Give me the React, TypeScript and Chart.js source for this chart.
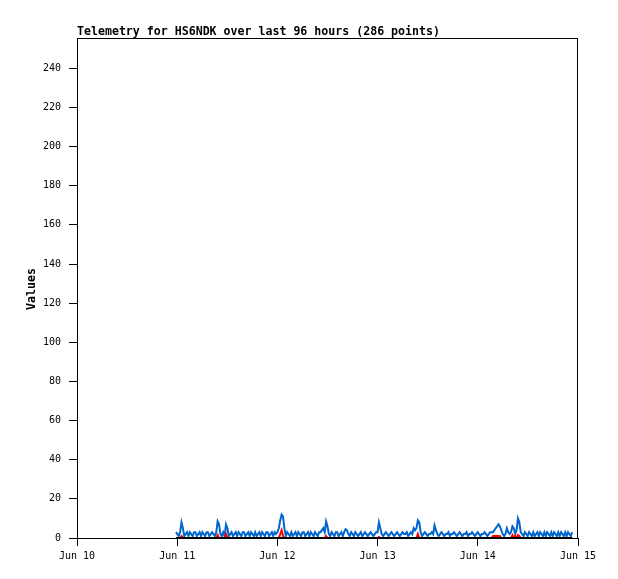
import React, { useEffect, useRef } from "react";
import { Chart, registerables } from "chart.js";

Chart.register(...registerables);

// Hours since Jun 10 00:00; samples every 20 minutes
const START_HOUR = 23.7;
const STEP_HOURS = 0.333;
const DAY_LABELS = ["Jun 10", "Jun 11", "Jun 12", "Jun 13", "Jun 14", "Jun 15"];
const Y_TICKS = [0, 20, 40, 60, 80, 100, 120, 140, 160, 180, 200, 220, 240];

const blueValues = [
  3, 2, 1, 3, 8, 5, 1, 2, 3, 1, 3, 2, 1, 3, 3, 1, 2, 3, 1, 3,
  2, 1, 3, 3, 1, 2, 3, 2, 1, 3, 8.5, 7, 2, 1, 3, 1, 7, 5, 1, 2,
  3, 1, 2, 3, 1, 3, 2, 1, 3, 3, 1, 2, 3, 1, 3, 2, 1, 3, 1, 2,
  3, 1, 3, 2, 1, 3, 3, 1, 2, 3, 1, 3, 2, 3, 5, 9, 12, 11, 5, 1,
  3, 2, 1, 3, 1, 2, 3, 1, 3, 2, 1, 3, 3, 1, 2, 3, 1, 3, 2, 1,
  3, 2, 1, 3, 3, 4, 5, 3, 8.5, 6, 2, 1, 3, 2, 1, 3, 3, 1, 2, 3,
  1, 3, 4.5, 4, 2, 1, 3, 2, 1, 3, 2, 1, 2, 3, 1, 2, 3, 2, 1, 2,
  3, 2, 1, 2, 3, 3, 8, 5, 2, 1, 2, 3, 2, 1, 2, 3, 2, 1, 2, 3,
  2, 1, 2, 3, 2, 2, 3, 1, 2, 3, 2, 5, 4, 5, 9, 8, 3, 1, 2, 3,
  2, 1, 2, 2, 3, 2, 6.5, 4, 2, 1, 2, 3, 2, 1, 2, 2, 3, 1, 2, 2,
  3, 2, 1, 2, 3, 2, 1, 2, 2, 3, 1, 2, 2, 3, 2, 1, 2, 3, 2, 1,
  2, 2, 3, 2, 1, 2, 3, 3, 3, 4, 5, 6, 7, 6, 4, 2, 1, 2, 5, 3,
  2, 3, 6, 5, 2, 4, 10, 8, 3, 2, 1, 3, 2, 1, 3, 2, 1, 3, 1, 2,
  3, 1, 3, 2, 1, 3, 1, 3, 2, 1, 3, 1, 3, 2, 1, 3, 1, 3, 2, 1,
  3, 1, 3, 2, 1, 3,
];

const redValues = [
  0, 0, 0, 0, 1, 0, 0, 0, 0, 0, 0, 0, 0, 0, 0, 0, 0, 0, 0, 0,
  0, 0, 0, 0, 0, 0, 0, 0, 0, 0, 1.5, 0, 0, 0, 0, 0, 2, 0, 0, 0,
  0, 0, 0, 0, 0, 0, 0, 0, 0, 0, 0, 0, 0, 0, 0, 0, 0, 0, 0, 0,
  0, 0, 0, 0, 0, 0, 0, 0, 0, 0, 0, 0, 0, 0, 0, 2, 4, 1, 0, 0,
  0, 0, 0, 0, 0, 0, 0, 0, 0, 0, 0, 0, 0, 0, 0, 0, 0, 0, 0, 0,
  0, 0, 0, 0, 0, 0, 0, 0, 1, 0, 0, 0, 0, 0, 0, 0, 0, 0, 0, 0,
  0, 0, 0, 0, 0, 0, 0, 0, 0, 0, 0, 0, 0, 0, 0, 0, 0, 0, 0, 0,
  0, 0, 0, 0, 0, 0, 0.5, 0, 0, 0, 0, 0, 0, 0, 0, 0, 0, 0, 0, 0,
  0, 0, 0, 0, 0, 0, 0, 0, 0, 0, 0, 0, 0, 0, 2, 0, 0, 0, 0, 0,
  0, 0, 0, 0, 0, 0, 0, 0, 0, 0, 0, 0, 0, 0, 0, 0, 0, 0, 0, 0,
  0, 0, 0, 0, 0, 0, 0, 0, 0, 0, 0, 0, 0, 0, 0, 0, 0, 0, 0, 0,
  0, 0, 0, 0, 0, 0, 0, 0, 1, 1, 1, 1, 1, 1, 0, 0, 0, 0, 0, 0,
  0, 0, 1.5, 0, 1, 0, 1.5, 1, 0, 0, 0, 0, 0, 0, 0, 0, 0, 0, 0, 0,
  0, 0, 0, 0, 0, 0, 0, 0, 0, 0, 0, 0, 0, 0, 0, 0, 0, 0, 0, 0,
  0, 0, 0, 0, 0, 0,
];

const blackValues = blueValues.map(() => 0);

const TITLE = "Telemetry for HS6NDK over last 96 hours (286 points)";
const Y_LABEL = "Values";

export default function App() {
  const ref = useRef<HTMLCanvasElement>(null);
  useEffect(() => {
    if (!ref.current) return;
    const times = blueValues.map((_, i) => START_HOUR + i * STEP_HOURS);
    const toPts = (arr: number[]) => arr.map((v, i) => ({ x: times[i], y: v }));
    const decor = {
      id: "decor",
      afterDraw(chart: any) {
        const { ctx, chartArea } = chart;
        ctx.save();
        ctx.strokeStyle = "#000";
        ctx.lineWidth = 1;
        ctx.strokeRect(
          Math.round(chartArea.left) + 0.5,
          Math.round(chartArea.top) + 0.5,
          Math.round(chartArea.right - chartArea.left) - 1,
          Math.round(chartArea.bottom - chartArea.top)
        );
        ctx.fillStyle = "#000";
        ctx.font = "bold 11.6px 'DejaVu Sans Mono'";
        ctx.textBaseline = "alphabetic";
        ctx.textAlign = "left";
        ctx.fillText(TITLE, chartArea.left, 35);
        ctx.translate(32, (chartArea.top + chartArea.bottom) / 2 + 1);
        ctx.rotate(-Math.PI / 2);
        ctx.textAlign = "center";
        ctx.textBaseline = "middle";
        ctx.fillText(Y_LABEL, 0, 0);
        ctx.restore();
      },
    };
    const chart = new Chart(ref.current, {
      type: "line",
      data: {
        datasets: [
          { data: toPts(blackValues), borderColor: "#000", borderWidth: 2, pointRadius: 0, order: 1 },
          { data: toPts(redValues), borderColor: "#ff0000", borderWidth: 2, pointRadius: 0, order: 2 },
          { data: toPts(blueValues), borderColor: "#0066cc", borderWidth: 2, pointRadius: 0, order: 3 },
        ],
      },
      options: {
        animation: false,
        responsive: false,
        layout: { padding: { left: 0, right: 40, top: 38, bottom: 0 } },
        plugins: { legend: { display: false }, tooltip: { enabled: false } },
        elements: { line: { tension: 0 } },
        scales: {
          x: {
            type: "linear",
            min: 0,
            max: 120,
            afterBuildTicks: (s: any) => {
              s.ticks = DAY_LABELS.map((_, i) => ({ value: i * 24 }));
            },
            afterFit: (s: any) => {
              s.height = 41;
            },
            ticks: {
              autoSkip: false,
              maxRotation: 0,
              padding: 4,
              color: "#000",
              font: { family: "'DejaVu Sans Mono'", size: 10 },
              callback: (v: any) => DAY_LABELS[Math.round(Number(v) / 24)] ?? "",
            },
            grid: { drawOnChartArea: false, drawTicks: true, tickLength: 8, color: "#000" },
            border: { color: "#000" },
          },
          y: {
            type: "linear",
            min: 0,
            max: 255.5,
            afterBuildTicks: (s: any) => {
              s.ticks = Y_TICKS.map((v) => ({ value: v }));
            },
            afterFit: (s: any) => {
              s.width = 77;
            },
            ticks: {
              padding: 8,
              color: "#000",
              font: { family: "'DejaVu Sans Mono'", size: 10 },
            },
            grid: { drawOnChartArea: false, drawTicks: true, tickLength: 8, color: "#000" },
            border: { color: "#000" },
          },
        },
      },
      plugins: [decor],
    });
    return () => chart.destroy();
  }, []);
  return (
    <div style={{ position: "absolute", left: 0, top: 0, width: 618, height: 579, background: "#fff" }}>
      <canvas ref={ref} width={618} height={579} style={{ width: 618, height: 579 }} />
    </div>
  );
}
